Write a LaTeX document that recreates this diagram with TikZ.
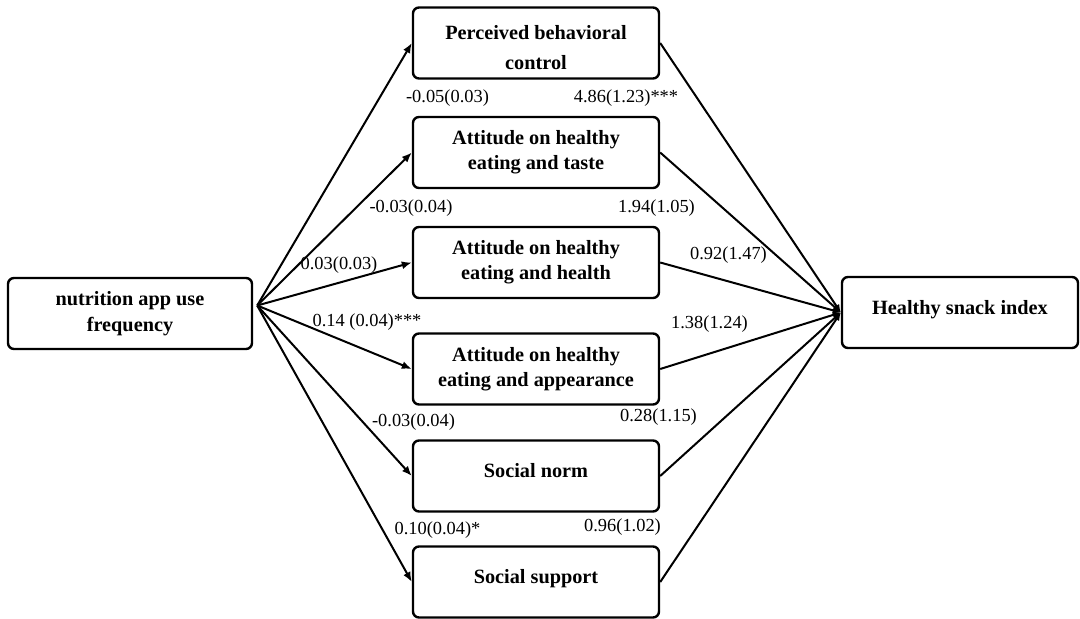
\documentclass[tikz,border=0pt]{standalone}
\usepackage{fontspec}
\setmainfont{Liberation Serif}
\usetikzlibrary{arrows.meta}
\begin{document}
\begin{tikzpicture}[x=0.75pt, y=-0.75pt,
  varbox/.style={draw, line width=1.8pt, rounded corners=4.5pt,
    minimum width=184.5pt, minimum height=53.25pt, inner sep=0pt,
    align=center, font=\fontsize{15.2}{19}\selectfont\bfseries},
  coef/.style={inner sep=0pt, font=\fontsize{13.8}{16}\selectfont},
  apath/.style={line width=1.5pt, -{Latex[length=7.5pt, width=6pt]}},
  blink/.style={line width=1.5pt, -{Latex[length=6pt, width=5.25pt]}}]
\useasboundingbox (0,0) rectangle (1080,618);

% predictor, mediators and outcome
\node[varbox, minimum width=183pt] (nf) at (130,313.5) {nutrition app use\\frequency};
\node[varbox, text height=40.5pt] (pbc) at (536,43) {Perceived behavioral\\[4pt]control};
\node[varbox] (taste) at (536,152.5) {Attitude on healthy\\eating and taste};
\node[varbox] (health) at (536,262.5) {Attitude on healthy\\eating and health};
\node[varbox] (appear) at (536,369) {Attitude on healthy\\eating and appearance};
\node[varbox, text depth=9pt] (norm) at (536,476) {Social norm};
\node[varbox, text depth=8pt] (support) at (536,582) {Social support};
\node[varbox, minimum width=177pt, text depth=8pt] (hsi) at (960,312.5) {Healthy snack index};

% a paths
\coordinate (src) at ([shift={(4,-8)}]nf.east);
\foreach \m in {pbc,taste,health,appear,norm,support}
  \draw[apath] (src) -- (\m.west);

% b paths
\foreach \m in {pbc,taste,health,appear,norm,support}
  \draw[blink] (\m.east) -- (hsi.west);

% coefficients (SE)
\node[coef] (a1) at (447.5,98) {-0.05(0.03)};
\node[coef] (b1) at (626,98) {4.86(1.23)***};
\node[coef] (a2) at (411,208) {-0.03(0.04)};
\node[coef] (b2) at (656.5,208) {1.94(1.05)};
\node[coef] (a3) at (339,265) {0.03(0.03)};
\node[coef] (b3) at (728.5,255) {0.92(1.47)};
\node[coef] (a4) at (367,322) {0.14 (0.04)***};
\node[coef] (b4) at (709.5,324) {1.38(1.24)};
\node[coef] (a5) at (413.5,422) {-0.03(0.04)};
\node[coef] (b5) at (658.5,417) {0.28(1.15)};
\node[coef] (a6) at (437.5,530) {0.10(0.04)*};
\node[coef] (b6) at (622.5,527) {0.96(1.02)};
\end{tikzpicture}
\end{document}
